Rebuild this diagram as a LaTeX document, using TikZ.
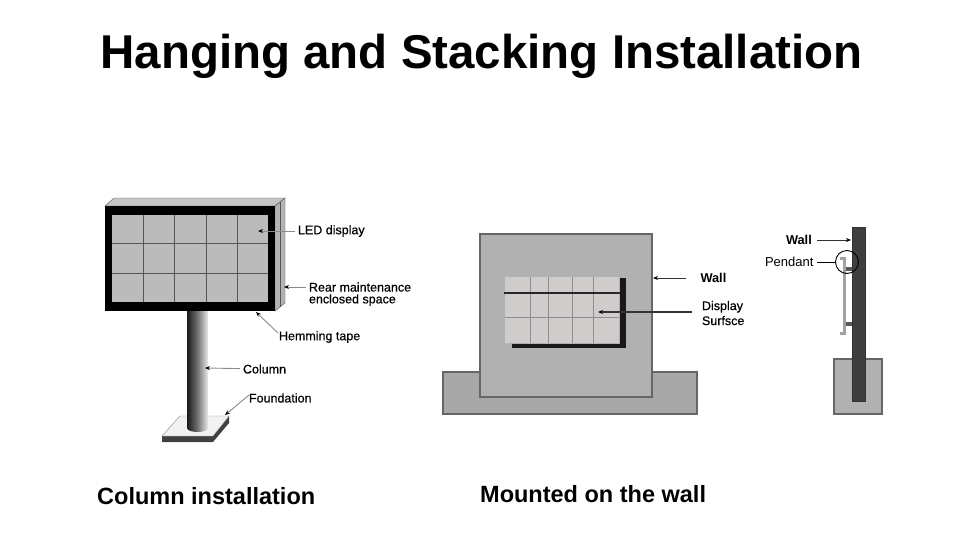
\documentclass[tikz,border=0pt]{standalone}
\usepackage{fontspec}
\setmainfont{Liberation Sans}
\newfontfamily\medf[RawFeature={embolden=0.5}]{Liberation Sans}
\usetikzlibrary{arrows.meta}
\definecolor{panelgrey}{HTML}{BBBBBB}
\definecolor{gridgrey}{HTML}{555555}
\definecolor{sidegrey}{HTML}{B4B4B4}
\definecolor{wallgrey}{HTML}{B1B1B1}
\definecolor{groundgrey}{HTML}{A8A8A8}
\definecolor{edgegrey}{HTML}{666666}
\definecolor{leadgrey}{HTML}{8A8A8A}
\definecolor{tilegrey}{HTML}{D0CCCC}
\definecolor{tileline}{HTML}{8E8E8E}
\definecolor{darkwall}{HTML}{3E3E3E}
\definecolor{pendgrey}{HTML}{A2A2A2}
\tikzset{
  titletext/.style={font=\fontsize{47.45}{50}\selectfont\bfseries,inner sep=0,anchor=center},
  captext/.style={font=\fontsize{23.5}{26}\selectfont\bfseries,inner sep=0,anchor=west},
  lab/.style={font=\fontsize{12.5}{11.8}\selectfont\medf,inner sep=0,outer sep=3pt,anchor=west,align=left},
  labbold/.style={font=\fontsize{12.8}{13}\selectfont\bfseries,inner sep=0,outer sep=3pt,anchor=west},
  leader/.style={draw=leadgrey,line width=0.9pt,-{Stealth[length=5pt,width=4pt,color=black]}},
  plainleader/.style={draw=black,line width=0.8pt}
}
\begin{document}
\begin{tikzpicture}[x=1pt,y=-1pt]
\useasboundingbox (0,0) rectangle (954,552);
\fill[white] (0,0) rectangle (954,552);

\node[titletext] (title) at (481.5,56) {Hanging and Stacking Installation};

% --- column installation: sign
\fill[panelgrey!85!white,draw=gridgrey,line width=0.4pt] (105,206) -- (114,198) -- (285,198) -- (275,206) -- cycle;
\fill[sidegrey,draw=gridgrey,line width=0.4pt] (275,206) -- (285,198) -- (285,303) -- (275,311) -- cycle;
\draw[gridgrey,line width=0.4pt] (280,202) -- (280,307);
\fill[black] (105,206) rectangle (275,311);
\fill[panelgrey] (112,215) rectangle (268,302);
\foreach \gx in {143,174,206,237} \draw[gridgrey,line width=0.8pt] (\gx,215) -- (\gx,302);
\foreach \gy in {243,273} \draw[gridgrey,line width=0.8pt] (112,\gy) -- (268,\gy);

% --- foundation and column
\fill[black!75] (162,436) -- (213,436) -- (229,416) -- (229,423) -- (213,442) -- (162,442) -- cycle;
\fill[black!5,draw=black!45,line width=0.4pt] (180,416) -- (229,416) -- (213,436) -- (162,436) -- cycle;
\shade[left color=black!90,right color=black!8,middle color=black!55]
  (187,311) -- (208,311) -- (208,428) arc[start angle=0,end angle=-180,x radius=10.5,y radius=-4] -- cycle;

\node[lab] (led) at (295,231) {LED display};
\coordinate (ledtip) at (258,231);
\draw[leader] (led) -- (ledtip);

\node[lab,anchor=north west] (rear) at (306,279.5) {Rear maintenance\\enclosed space};
\coordinate (rearstart) at (306,287);
\coordinate (reartip) at (284,287);
\draw[leader] (rearstart) -- (reartip);

\node[lab] (hem) at (276,337) {Hemming tape};
\coordinate (hemstart) at (278,333);
\coordinate (hemtip) at (256,312);
\draw[leader] (hemstart) -- (hemtip);

\node[lab] (col) at (240,369) {Column};
\coordinate (coltip) at (205,368);
\draw[leader] (col) -- (coltip);

\node[lab] (fou) at (246,398) {Foundation};
\coordinate (foustart) at (249,395);
\coordinate (foutip) at (225,415);
\draw[leader] (foustart) -- (foutip);

\node[captext] (capcol) at (97,496) {Column installation};

% --- mounted on the wall: front view
\fill[groundgrey,draw=edgegrey,line width=1.1pt] (443,372) rectangle (697,414);
\fill[wallgrey,draw=edgegrey,line width=1.1pt] (480,234) rectangle (652,397);
\fill[tilegrey] (505,277) rectangle (619,343);
\foreach \gx in {530,548,572,593} \draw[tileline,line width=1pt] (\gx,277) -- (\gx,343);
\draw[tileline,line width=1pt] (505,317) -- (619,317);
\draw[black!85,line width=1.6pt] (504,293) -- (620,293);
\fill[black!90] (620,278) rectangle (626,347);
\fill[black!90] (512,344) rectangle (626,348);

\node[labbold] (wallm) at (697.5,278) {Wall};
\coordinate (wallmstart) at (686,278);
\coordinate (wallmtip) at (653,278);
\draw[leader,draw=black!80] (wallmstart) -- (wallmtip);

\node[lab,anchor=north west,font=\fontsize{12.5}{15}\selectfont\medf] (disp) at (699,298) {Display\\Surfsce};
\coordinate (dispstart) at (692,312);
\coordinate (disptip) at (598,312);
\draw[leader,draw=black!80,line width=1.3pt] (dispstart) -- (disptip);

\node[captext] (capwall) at (480,494) {Mounted on the wall};

% --- side view
\fill[wallgrey,draw=edgegrey,line width=1.1pt] (834,359) rectangle (882,414);
\fill[darkwall,draw=black!80,line width=0.6pt] (852,227) rectangle (865,401);
\fill[pendgrey] (842.7,257) rectangle (846,334);
\fill[pendgrey] (840,256.5) rectangle (846,259.5);
\fill[pendgrey] (840,331.5) rectangle (846,334.5);
\fill[black!65] (846,266.5) rectangle (852,270.5);
\fill[black!65] (846,321.5) rectangle (852,325.5);
\node[circle,draw=black,line width=0.9pt,minimum size=23pt,inner sep=0] (pendcirc) at (847,262) {};

\node[labbold] (walls) at (783,240) {Wall};
\coordinate (wallsstart) at (817,240);
\coordinate (wallstip) at (851,240);
\draw[leader,draw=black!80] (wallsstart) -- (wallstip);

\node[lab,font=\fontsize{13}{13}\selectfont] (pend) at (762,262) {Pendant};
\coordinate (pendstart) at (817,262);
\draw[plainleader] (pendstart) -- (pendcirc);
\end{tikzpicture}
\end{document}
